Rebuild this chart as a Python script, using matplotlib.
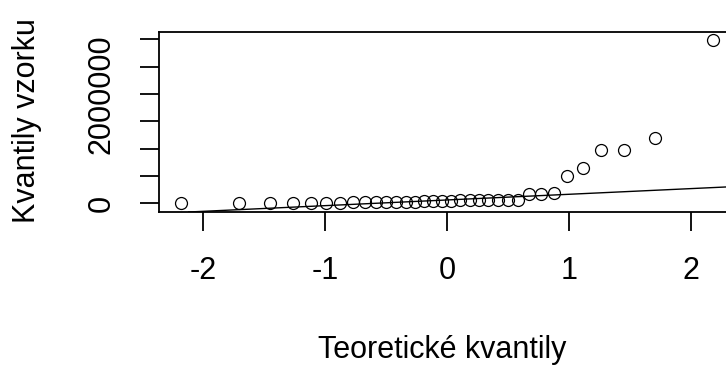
import numpy as np
import matplotlib
matplotlib.use("Agg")
import matplotlib.pyplot as plt
from statistics import NormalDist

plt.rcParams['font.family'] = ['Liberation Sans', 'DejaVu Sans']
plt.rcParams['axes.unicode_minus'] = False

# Sorted sample values (qqnorm of n = 34 observations)
sample_values = [
    0, 0, 0, 0, 0, 5000, 10000, 15000, 20000, 25000,
    25000, 30000, 30000, 30000, 35000, 40000, 45000, 50000, 55000, 55000,
    60000, 60000, 62000, 62000, 65000, 170000, 175000, 180000, 500000, 640000,
    975000, 980000, 1200000, 2990000,
]
# qqline (reference line) parameters
line_intercept = 61000
line_slope = 104000

x_ticks = [-2, -1, 0, 1, 2]
x_tick_labels = ["-2", "-1", "0", "1", "2"]
y_ticks = [0, 500000, 1000000, 1500000, 2000000, 2500000, 3000000]
y_tick_labels = ["0", "", "", "", "2000000", "", ""]
x_label = "Teoretické kvantily"
y_label = "Kvantily vzorku"

n = len(sample_values)
nd = NormalDist()
theor = [nd.inv_cdf((i + 0.5) / n) for i in range(n)]

W, H = 726, 365
fig = plt.figure(figsize=(W / 100, H / 100), dpi=100)
left_px, right_px, top_px, bottom_px = 159.3, 734.0, 32.0, 212.0
ax = fig.add_axes([left_px / W, 1 - bottom_px / H,
                   (right_px - left_px) / W, (bottom_px - top_px) / H])

ax.plot(theor, sample_values, linestyle='none', marker='o', markersize=8.6,
        markerfacecolor='none', markeredgecolor='black', markeredgewidth=0.9,
        clip_on=False)
ax.axline((0, line_intercept), slope=line_slope, color='black', linewidth=1.0)

ax.set_xlim(-2.356, 2.351)
ax.set_ylim(-159000, 3133000)

ax.set_xticks(x_ticks)
ax.set_xticklabels(x_tick_labels)
ax.set_yticks(y_ticks)
ax.set_yticklabels(y_tick_labels, rotation=90, va='center')

for s in ax.spines.values():
    s.set_linewidth(1.3)
ax.tick_params(axis='both', direction='out', length=13.7, width=1.3,
               labelsize=22, colors='black')
ax.tick_params(axis='x', pad=18)
ax.tick_params(axis='y', pad=17)

fig.text(442 / W, 1 - 350 / H, x_label, fontsize=22, ha='center', va='center')
fig.text(27 / W, 1 - 121 / H, y_label, fontsize=22, ha='center', va='center',
         rotation=90)

fig.savefig("out.png", dpi=100)
